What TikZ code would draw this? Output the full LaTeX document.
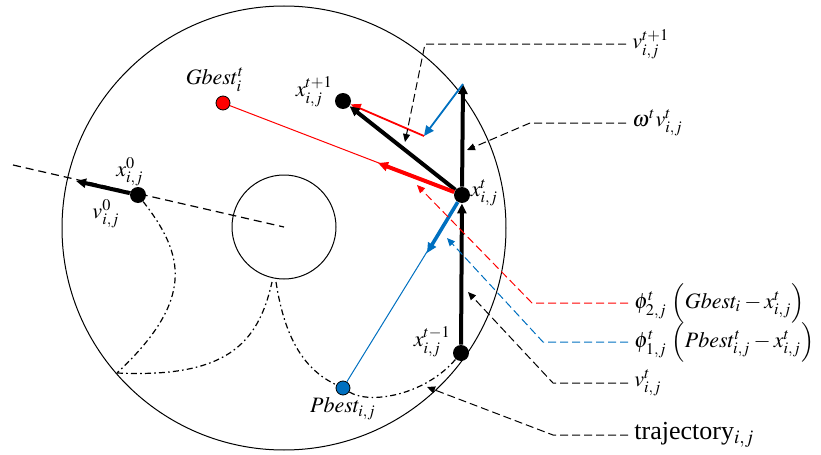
\documentclass[tikz,border=0pt]{standalone}
\usepackage{mathptmx}
\usepackage{fontspec}
\setmainfont{Liberation Serif}
\usetikzlibrary{positioning,arrows.meta,calc}

\definecolor{pblue}{RGB}{0,112,192}
\definecolor{gred}{RGB}{255,0,0}

\begin{document}
\begin{tikzpicture}[
    x=0.5pt, y=-0.5pt,
    font=\fontsize{11}{13}\selectfont,
    >={Triangle[length=5pt,width=4.5pt]},
    ring/.style    = {circle, draw, line width=0.5pt, inner sep=0pt},
    dot/.style     = {circle, fill=black, minimum size=8pt, inner sep=0pt},
    gdot/.style    = {circle, draw, fill=gred, minimum size=7pt, inner sep=0pt,
                      line width=0.4pt},
    pdot/.style    = {circle, draw, fill=pblue, minimum size=7pt, inner sep=0pt,
                      line width=0.4pt},
    lbl/.style     = {inner sep=1pt},
    tag/.style     = {anchor=west, inner sep=3pt},
    vec/.style     = {->, line width=2pt},
    gvec/.style    = {->, line width=2pt, gred},
    bvec/.style    = {->, line width=1.8pt, pblue},
    thin/.style    = {line width=0.5pt},
    leader/.style  = {-{Triangle[length=4pt,width=3.5pt]}, line width=0.5pt,
                      dash pattern=on 4pt off 2pt},
    axis/.style    = {line width=0.6pt, dash pattern=on 4pt off 2.5pt},
    traj/.style    = {line width=0.6pt, dash pattern=on 3pt off 1.6pt on 0.8pt off 1.6pt}
]
\useasboundingbox (0,0) rectangle (821,455);

% --- Search space -------------------------------------------------------------
\node[ring, minimum size=222pt] (outer) at (284,228) {};
\node[ring, minimum size=52pt]  (inner) at (284,227) {};

% --- Particle positions --------------------------------------------------------
\node[dot]  (x0)    at (138,195) {};
\node[dot]  (xtm1)  at (461,353) {};
\node[dot]  (xt)    at (462,195) {};
\node[dot]  (xtp1)  at (343,101) {};
\node[gdot] (gbest) at (223,103) {};
\node[pdot] (pbest) at (343,388) {};

\node[lbl, above=1pt of gbest, xshift=-4pt]        {$Gbest^{t}_{i}$};
\node[lbl, above left=-7pt and 1pt of xtp1]         {$x^{t+1}_{i,j}$};
\node[lbl, right=-1pt of xt, yshift=1pt]            {$x^{t}_{i,j}$};
\node[lbl, above left=-6pt and 1pt of xtm1]         {$x^{t-1}_{i,j}$};
\node[lbl, above=-1pt of x0, xshift=-4pt]           {$x^{0}_{i,j}$};
\node[lbl, below left=-2pt and 5pt of x0]           {$v^{0}_{i,j}$};
\node[lbl, below=0pt of pbest]                      {$Pbest_{i,j}$};

% --- Vector ends ---------------------------------------------------------------
\coordinate (far)   at (13,165);
\coordinate (v0tip) at (76,181);
\coordinate (wtip)  at (463,84);
\coordinate (btip)  at (424,136);
\coordinate (rtip)  at (378,163);
\coordinate (ptip)  at (427,253);

% --- Trajectory ----------------------------------------------------------------
\coordinate (t1) at (117,373);
\coordinate (t2) at (272,282);
\coordinate (t3) at (276,282);
\draw[traj] (x0) .. controls (185,255) and (195,300) .. (t1);
\draw[traj] (t1) .. controls (225,378) and (258,345) .. (t2);
\draw[traj] (t3) .. controls (285,340) and (305,370) .. (pbest);
\draw[traj] (pbest) .. controls (370,405) and (425,395) .. (xtm1);

\draw[axis] (far) -- (inner.center);

% --- Velocity update -----------------------------------------------------------
\draw[thin, gred]  (gbest) -- (xt);
\draw[thin, pblue] (pbest) -- (xt);

\draw[vec]  (x0)   -- (v0tip);
\draw[vec]  (xtm1) -- (xt);
\draw[vec]  (xt)   -- (wtip);
\draw[->, thin, pblue, line width=0.9pt] (wtip) -- (btip);
\draw[->, thin, gred,  line width=0.9pt] (btip) -- (xtp1);
\draw[vec]  (xt)   -- (xtp1);
\draw[gvec] (xt)   -- (rtip);
\draw[bvec] (xt)   -- (ptip);

% --- Legend tags ---------------------------------------------------------------
\node[tag] (lvnext) at (626,44)  {$v^{t+1}_{i,j}$};
\node[tag] (lomega) at (626,123) {$\omega^{t} v^{t}_{i,j}$};
\node[tag] (lgbest) at (628,303) {$\phi^{t}_{2,j}\,\left(Gbest_{i}-x^{t}_{i,j}\right)$};
\node[tag] (lpbest) at (628,342) {$\phi^{t}_{1,j}\,\left(Pbest^{t}_{i,j}-x^{t}_{i,j}\right)$};
\node[tag] (lvt)    at (628,383) {$v^{t}_{i,j}$};
\node[tag, font=\fontsize{13}{15}\selectfont] (ltraj) at (628,435) {trajectory$_{i,j}$};

\coordinate (k1) at (405,142);
\coordinate (k2) at (467,150);
\coordinate (k3) at (417,185);
\coordinate (k4) at (447,238);
\coordinate (k5) at (468,292);
\coordinate (k6) at (427,387);

\draw[leader]        (lvnext.west) -- ++(-201,0) -- (k1);
\draw[leader]        (lomega.west) -- ++(-96,0)  -- (k2);
\draw[leader, gred]  (lgbest.west) -- ++(-96,0)  -- (k3);
\draw[leader, pblue] (lpbest.west) -- ++(-85,0)  -- (k4);
\draw[leader]        (lvt.west)    -- ++(-75,0)  -- (k5);
\draw[leader]        (ltraj.west)  -- ++(-75,0)  -- (k6);

\end{tikzpicture}
\end{document}
